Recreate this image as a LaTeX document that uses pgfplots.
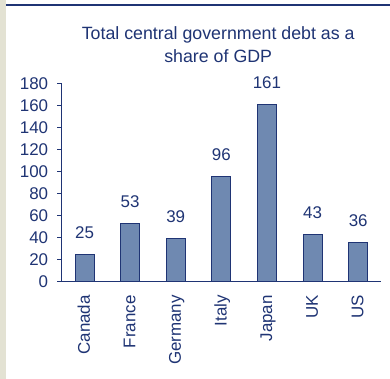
\documentclass[border=0pt]{standalone}
\usepackage{pgfplots}
\pgfplotsset{compat=1.18}
\usepackage{fontspec}
\setmainfont{Liberation Sans}
\definecolor{navy}{HTML}{1F3474}
\definecolor{barfill}{HTML}{6F89B1}
\definecolor{strip}{HTML}{E3E2D3}
\begin{document}
\begin{tikzpicture}[x=1bp,y=1bp]
\useasboundingbox (0,0) rectangle (390,379);
\fill[white] (0,0) rectangle (390,379);
\fill[strip] (0,0) rectangle (6,379);
\draw[navy, line width=2bp] (6,373.6) -- (390,373.6);
\node[anchor=base, text=navy, font=\fontsize{17.85}{21}\selectfont] at (218.2,339.1) {Total central government debt as a};
\node[anchor=base, text=navy, font=\fontsize{17.85}{21}\selectfont] at (218.2,316.3) {share of GDP};
\begin{axis}[
  at={(61.7bp,97.4bp)}, anchor=south west,
  scale only axis, width=319.3bp, height=197.8bp,
  xmin=-0.5, xmax=6.5, ymin=0, ymax=180,
  axis x line*=bottom, axis y line*=left,
  axis line style={navy, line width=1.3bp, -},
  xtick={0,...,6},
  xticklabels={Canada,France,Germany,Italy,Japan,UK,US},
  x tick style={draw=none},
  extra x ticks={-0.5,0.5,1.5,2.5,3.5,4.5,5.5,6.5},
  extra x tick labels={},
  extra x tick style={tick style={navy, line width=1bp}, major tick length=5bp},
  ytick={0,20,...,180},
  y tick style={navy, line width=1bp},
  major tick length=4.5bp,
  tick align=outside,
  xtick pos=bottom, ytick pos=left,
  /pgf/number format/assume math mode=true,
  tick label style={text=navy, font=\fontsize{17}{20}\selectfont},
  yticklabel style={inner sep=0pt, xshift=-8.9bp},
  xticklabel style={yshift=-9bp, rotate=90, anchor=east, inner sep=0pt, text height=12.5bp, text depth=2bp},
  ybar, bar width=19bp,
  nodes near coords,
  every node near coord/.append style={text=navy, font=\fontsize{17}{20}\selectfont, inner sep=0pt, anchor=south, yshift=15.4bp},
  clip=false,
]
\addplot[fill=barfill, draw=navy, line width=0.9bp] coordinates {(0,25) (1,53) (2,39) (3,96) (4,161) (5,43) (6,36)};
\end{axis}
\end{tikzpicture}
\end{document}
